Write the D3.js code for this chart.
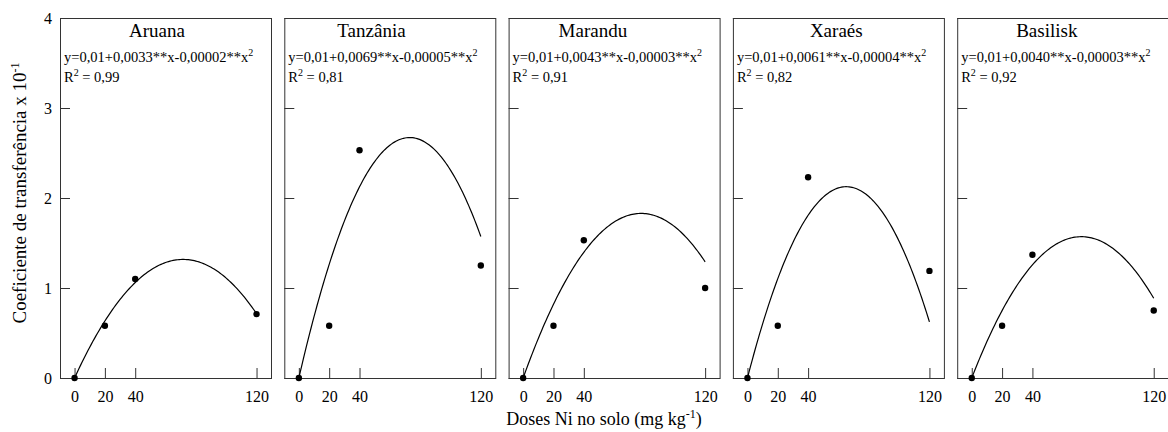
<!DOCTYPE html>
<html>
<head>
<meta charset="utf-8">
<script src="https://cdn.jsdelivr.net/npm/d3@7"></script>
<style>
  body { margin: 0; background: #fff; }
  svg { display: block; font-family: "Liberation Serif", "Times New Roman", serif; }
</style>
</head>
<body>
<svg id="chart" width="1168" height="432"></svg>
<script>
// data
const cultivars = ['Aruana', 'Tanzânia', 'Marandu', 'Xaraés', 'Basilisk'];
const doses = [0, 20, 40, 120];
const coefTransf = [
  [0, 0.58, 1.10, 0.71],
  [0, 0.58, 2.53, 1.25],
  [0, 0.58, 1.53, 1.00],
  [0, 0.58, 2.23, 1.19],
  [0, 0.58, 1.37, 0.75]
];
// fitted quadratic y = a + b*x + c*x^2 (chart units, x 10^-1)
const fitA = [0, 0, 0, 0, 0];
const fitB = [0.0368, 0.0731, 0.0470, 0.0652, 0.04345];
const fitC = [-0.000257, -0.0005, -0.000302, -0.0005, -0.0003006];
const equations = [
  'y=0,01+0,0033**x-0,00002**x',
  'y=0,01+0,0069**x-0,00005**x',
  'y=0,01+0,0043**x-0,00003**x',
  'y=0,01+0,0061**x-0,00004**x',
  'y=0,01+0,0040**x-0,00003**x'
];
const r2 = ['0,99', '0,81', '0,91', '0,82', '0,92'];
const yTicks = [0, 1, 2, 3, 4];

// layout
const panelLeft0 = 60, panelStep = 224.3, panelW = 212;
const panelTop = 18, panelH = 360;
const titleDx = [69, 53, 50, 77, 59];

const svg = d3.select('#chart');

const x = d3.scaleLinear().domain([-9.6, 130.2]).range([0, panelW]);
const y = d3.scaleLinear().domain([0, 4]).range([panelH, 0]);

const line = d3.line()
  .x(d => x(d[0]))
  .y(d => y(d[1]));

cultivars.forEach((name, i) => {
  const g = svg.append('g')
    .attr('transform', `translate(${panelLeft0 + i * panelStep},${panelTop})`);

  const yAxis = d3.axisLeft(y).tickValues(yTicks).tickSize(-10).tickPadding(8)
    .tickFormat(i === 0 ? d3.format('d') : () => '');
  const yg = g.append('g').call(yAxis);
  yg.select('.domain').remove();
  yg.selectAll('line').attr('stroke', '#333');
  yg.selectAll('text').attr('font-size', 16).attr('fill', '#000')
    .attr('font-family', '"Liberation Serif", "Times New Roman", serif');

  const xAxis = d3.axisBottom(x).tickValues(doses).tickSize(-10).tickPadding(13);
  const xg = g.append('g').attr('transform', `translate(0,${panelH})`).call(xAxis);
  xg.select('.domain').remove();
  xg.selectAll('line').attr('stroke', '#333');
  xg.selectAll('text').attr('font-size', 16).attr('fill', '#000')
    .attr('font-family', '"Liberation Serif", "Times New Roman", serif');

  g.append('rect')
    .attr('x', 0.5).attr('y', 0.5)
    .attr('width', panelW - 1).attr('height', panelH)
    .attr('fill', 'none').attr('stroke', '#333').attr('stroke-width', 1);

  // fitted curve
  const curvePts = d3.range(0, 120.01, 1).map(v => [v, fitA[i] + fitB[i] * v + fitC[i] * v * v]);
  g.append('path')
    .datum(curvePts)
    .attr('d', line)
    .attr('fill', 'none')
    .attr('stroke', '#000')
    .attr('stroke-width', 1.2);

  g.selectAll('.dot')
    .data(doses.map((d, k) => [d, coefTransf[i][k]]))
    .enter().append('circle')
    .attr('class', 'dot')
    .attr('cx', d => x(d[0]))
    .attr('cy', d => y(d[1]))
    .attr('r', 3.2)
    .attr('fill', '#000');

  g.append('text')
    .attr('x', titleDx[i]).attr('y', 19)
    .attr('font-size', 19)
    .text(name);

  const eq = g.append('text').attr('x', 4).attr('y', 44).attr('font-size', 14.5);
  eq.append('tspan').text(equations[i]);
  eq.append('tspan').attr('dy', -6).attr('font-size', 10).text('2');

  const rt = g.append('text').attr('x', 4).attr('y', 64).attr('font-size', 14.5);
  rt.append('tspan').text('R');
  rt.append('tspan').attr('dy', -6).attr('font-size', 10).text('2');
  rt.append('tspan').attr('dy', 6).text(' = ' + r2[i]);
});

// axis titles
const yl = svg.append('text')
  .attr('transform', 'translate(26,193) rotate(-90)')
  .attr('text-anchor', 'middle')
  .attr('font-size', 19);
yl.append('tspan').text('Coeficiente de transferência x 10');
yl.append('tspan').attr('dy', -7).attr('font-size', 12).text('-1');

const xl = svg.append('text')
  .attr('x', 604).attr('y', 425)
  .attr('text-anchor', 'middle')
  .attr('font-size', 18);
xl.append('tspan').text('Doses Ni no solo (mg kg');
xl.append('tspan').attr('dy', -7).attr('font-size', 12).text('-1');
xl.append('tspan').attr('dy', 7).text(')');
</script>
</body>
</html>
